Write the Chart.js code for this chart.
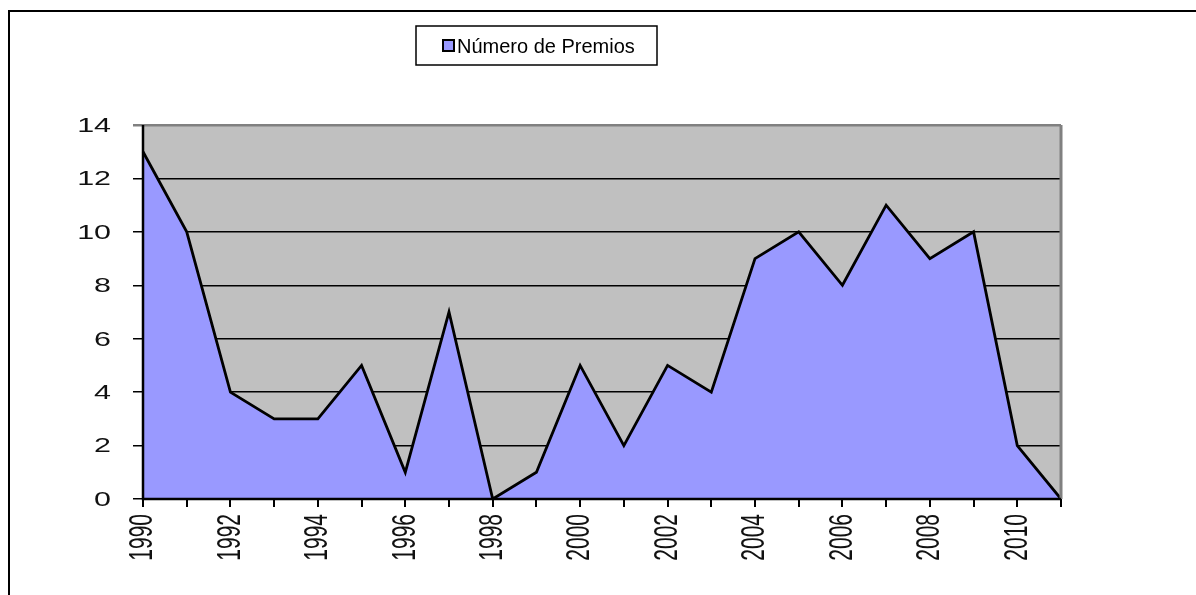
<!DOCTYPE html>
<html>
<head>
<meta charset="utf-8">
<script src="https://cdn.jsdelivr.net/npm/chart.js@4/dist/chart.umd.min.js"></script>
<style>
html,body{margin:0;padding:0;background:#fff;}
#wrap{position:relative;width:1196px;height:595px;}
</style>
</head>
<body>
<div id="wrap"><canvas id="c" width="1196" height="595"></canvas></div>
<script>
const years = ['1990','1991','1992','1993','1994','1995','1996','1997','1998','1999','2000','2001','2002','2003','2004','2005','2006','2007','2008','2009','2010','2011'];
const premios = [13,10,4,3,3,5,1,7,0,1,5,2,5,4,9,10,8,11,9,10,2,0];
const seriesName = 'Número de Premios';
const yTicks = [0,2,4,6,8,10,12,14];

const FONT = "'Liberation Sans', Arial, sans-serif";

const framePlugin = {
  id: 'frame',
  beforeDraw(chart) {
    const ctx = chart.ctx;
    const a = chart.chartArea;
    ctx.save();
    ctx.fillStyle = '#fff';
    ctx.fillRect(0, 0, chart.width, chart.height);
    ctx.strokeStyle = '#000';
    ctx.lineWidth = 2;
    ctx.beginPath();
    ctx.moveTo(9, chart.height + 5);
    ctx.lineTo(9, 11);
    ctx.lineTo(chart.width + 5, 11);
    ctx.stroke();
    ctx.fillStyle = '#c0c0c0';
    ctx.fillRect(a.left, a.top, a.right - a.left, a.bottom - a.top);
    // legend box
    ctx.fillStyle = '#fff';
    ctx.fillRect(416, 26, 241, 39);
    ctx.strokeStyle = '#000';
    ctx.lineWidth = 1.5;
    ctx.strokeRect(416, 26, 241, 39);
    ctx.fillStyle = '#9999ff';
    ctx.fillRect(443, 40, 11, 11);
    ctx.strokeStyle = '#000';
    ctx.lineWidth = 2;
    ctx.strokeRect(443, 40, 11, 11);
    ctx.fillStyle = '#000';
    ctx.font = "20px " + FONT;
    ctx.textBaseline = 'alphabetic';
    ctx.textAlign = 'left';
    ctx.fillText(seriesName, 457, 53);
    ctx.restore();
  },
  afterDatasetsDraw(chart) {
    const ctx = chart.ctx;
    const a = chart.chartArea;
    ctx.save();
    ctx.strokeStyle = '#808080';
    ctx.lineWidth = 3;
    ctx.beginPath();
    ctx.moveTo(a.right, a.top);
    ctx.lineTo(a.right, a.bottom);
    ctx.stroke();
    ctx.strokeStyle = '#000';
    ctx.lineWidth = 2.5;
    ctx.beginPath();
    ctx.moveTo(a.left, a.top);
    ctx.lineTo(a.left, a.bottom);
    ctx.lineTo(a.right, a.bottom);
    ctx.stroke();
    ctx.restore();
  },
  afterDraw(chart) {
    const ctx = chart.ctx;
    const xs = chart.scales.x, ys = chart.scales.y;
    ctx.save();
    ctx.fillStyle = '#111';
    ctx.font = "21px " + FONT;
    // y labels, horizontally stretched
    ctx.textAlign = 'right';
    ctx.textBaseline = 'middle';
    yTicks.forEach(v => {
      const py = ys.getPixelForValue(v);
      ctx.save();
      ctx.translate(111, py + 1);
      ctx.scale(1.45, 1);
      ctx.fillText(String(v), 0, 0);
      ctx.restore();
    });
    // x labels, rotated and stretched
    years.forEach((y, i) => {
      if (i % 2 !== 0) return;
      const px = xs.getPixelForValue(i);
      ctx.save();
      ctx.translate(px, 514);
      ctx.rotate(-Math.PI / 2);
      ctx.scale(1, 1.6);
      ctx.textAlign = 'right';
      ctx.textBaseline = 'middle';
      ctx.fillText(y, 0, 0);
      ctx.restore();
    });
    ctx.restore();
  }
};

new Chart(document.getElementById('c'), {
  type: 'line',
  data: {
    labels: years,
    datasets: [{
      label: seriesName,
      data: premios,
      fill: 'origin',
      backgroundColor: '#9999ff',
      borderColor: '#000',
      borderWidth: 2.8,
      pointRadius: 0,
      tension: 0
    }]
  },
  options: {
    responsive: false,
    animation: false,
    devicePixelRatio: 1,
    layout: { padding: { left: 0, top: 125, right: 135, bottom: 0 } },
    plugins: { legend: { display: false }, tooltip: { enabled: false } },
    scales: {
      x: {
        type: 'category',
        offset: false,
        afterFit(s) { s.height = 96; },
        border: { display: false },
        grid: {
          drawOnChartArea: false,
          drawTicks: true,
          tickLength: 8,
          color: '#000',
          lineWidth: 2
        },
        ticks: { display: false, autoSkip: false }
      },
      y: {
        min: 0,
        max: 14,
        afterFit(s) { s.width = 143; },
        afterBuildTicks(s) { s.ticks = yTicks.map(v => ({ value: v })); },
        border: { display: false },
        grid: {
          drawTicks: true,
          tickLength: 10,
          color: (c) => (c.tick && c.tick.value === 14) ? '#808080' : '#000',
          lineWidth: (c) => (c.tick && c.tick.value === 14) ? 2.5 : 1.5
        },
        ticks: { display: false }
      }
    }
  },
  plugins: [framePlugin]
});
</script>
</body>
</html>
